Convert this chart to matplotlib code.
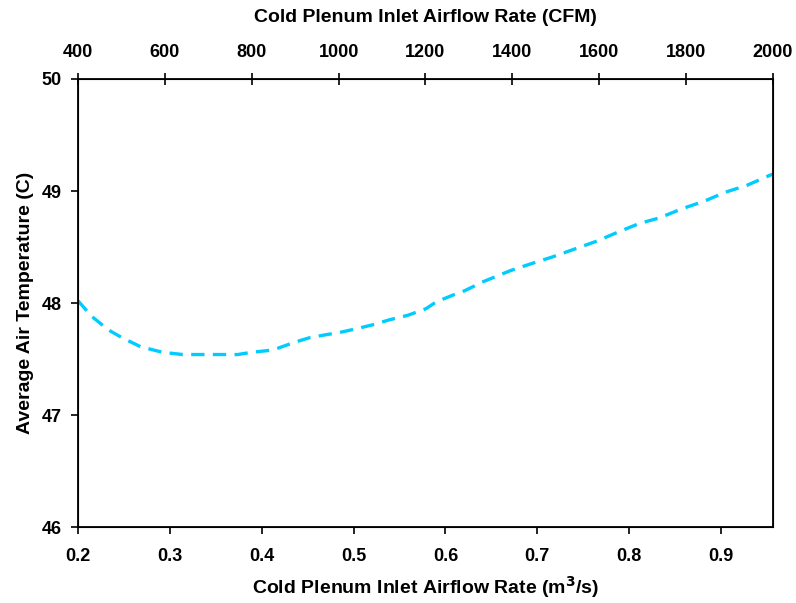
import matplotlib.pyplot as plt

plt.rcParams['font.family'] = ['Liberation Sans', 'DejaVu Sans']
plt.rcParams['font.weight'] = 'bold'

# airflow rate (m^3/s) and average air temperature (C)
flow_m3s = [0.200, 0.215, 0.233, 0.248, 0.268, 0.292, 0.314, 0.343, 0.374, 0.389,
            0.412, 0.436, 0.452, 0.472, 0.481, 0.503, 0.523, 0.539, 0.559, 0.579,
            0.590, 0.608, 0.621, 0.641, 0.671, 0.693, 0.716, 0.740, 0.764, 0.787,
            0.811, 0.833, 0.857, 0.882, 0.905, 0.928, 0.956]
avg_temp = [48.02, 47.88, 47.76, 47.69, 47.61, 47.56, 47.54, 47.54, 47.54, 47.56,
            47.58, 47.65, 47.69, 47.72, 47.73, 47.77, 47.81, 47.85, 47.89, 47.95,
            48.01, 48.07, 48.11, 48.19, 48.29, 48.35, 48.41, 48.48, 48.55, 48.63,
            48.71, 48.76, 48.84, 48.91, 48.99, 49.05, 49.15]

bottom_ticks = [0.2, 0.3, 0.4, 0.5, 0.6, 0.7, 0.8, 0.9]
top_ticks = [400, 600, 800, 1000, 1200, 1400, 1600, 1800, 2000]
y_ticks = [46, 47, 48, 49, 50]

fig = plt.figure(figsize=(7.96, 6.03), dpi=100)
ax = fig.add_axes([0.098, 0.126, 0.873, 0.743])

ax.plot(flow_m3s, avg_temp, color='#00CCFF', linewidth=2.4,
        linestyle=(0, (4, 2.5)), solid_capstyle='butt')

ax.set_xlim(0.2, 0.9565)
ax.set_ylim(46, 50)
ax.set_xticks(bottom_ticks)
ax.set_xticklabels([f"{t:.1f}" for t in bottom_ticks])
ax.set_yticks(y_ticks)
ax.tick_params(axis='both', labelsize=13, width=1.2, length=5, direction='out')
ax.tick_params(axis='x', pad=10)
ax.tick_params(axis='y', pad=7)
ax.set_xlabel("Cold Plenum Inlet Airflow Rate (m$^{\\mathbf{3}}$/s)", fontsize=14,
              fontweight='bold', labelpad=7)
ax.set_ylabel("Average Air Temperature (C)", fontsize=14, fontweight='bold', labelpad=5)
for s in ax.spines.values():
    s.set_linewidth(1.3)

ax2 = ax.twiny()
ax2.set_xlim(400, 2000)
ax2.set_xticks(top_ticks)
ax2.tick_params(axis='x', labelsize=13, width=1.2, length=8, direction='inout', pad=9)
ax2.set_xlabel("Cold Plenum Inlet Airflow Rate (CFM)", fontsize=14,
               fontweight='bold', labelpad=16)

fig.savefig("out.png", dpi=100)
